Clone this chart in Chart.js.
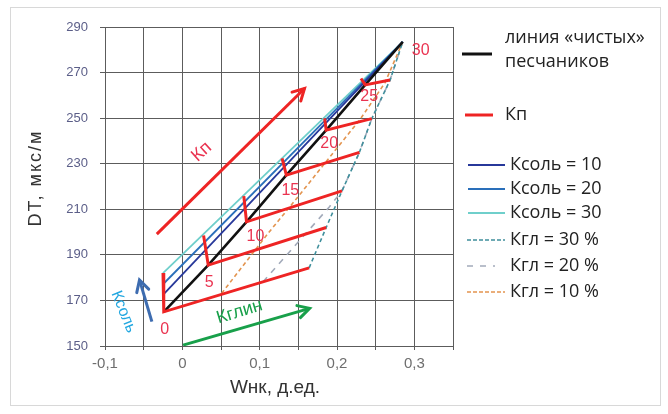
<!DOCTYPE html>
<html>
<head>
<meta charset="utf-8">
<script src="https://cdn.jsdelivr.net/npm/chart.js@4.4.0/dist/chart.umd.min.js"></script>
<style>
  html, body { margin: 0; padding: 0; background: #ffffff; }
  #wrap { position: relative; width: 668px; height: 414px; }
  canvas { display: block; }
</style>
</head>
<body>
<div id="wrap"><canvas id="c" width="668" height="414"></canvas></div>
<script>
// Porosity (Кп, %) values marked along the clean-sandstone line
const porosity = ['0', '5', '10', '15', '20', '25', '30'];

// Clean sandstone line: Wнк vs DT
const cleanW  = [-0.024, 0.0335, 0.083, 0.1345, 0.186, 0.2365, 0.285];
const cleanDT = [165, 185.5, 204.5, 225, 244.7, 264.6, 283.5];

// Top of each porosity tick (Ксоль = 30)
const saltTopW  = [-0.025, 0.0275, 0.0795, 0.129, 0.184, 0.231];
const saltTopDT = [182, 198.5, 215.8, 232.3, 249.9, 267.4];

// End of each porosity line towards clay (Кгл = 30 %)
const clayEndW  = [0.164, 0.186, 0.2065, 0.229, 0.245, 0.2686];
const clayEndDT = [184.3, 202, 218.1, 235, 249.8, 266.7];

// Salinity lines
const salt10W = [-0.025, 0.285], salt10DT = [172.4, 283.5];
const salt20W = [-0.025, 0.285], salt20DT = [177.1, 283.5];
const salt30W = [-0.025, 0.285], salt30DT = [182, 283.5];

// Clay content lines
const clay30W  = [0.164, 0.186, 0.2065, 0.229, 0.245, 0.2686, 0.285];
const clay30DT = [184.3, 202, 218.1, 235, 249.8, 266.7, 283.5];
const clay20W  = [0.1044, 0.19, 0.2065, 0.229, 0.245, 0.2686, 0.285];
const clay20DT = [178.2, 211, 218.1, 235, 249.8, 266.7, 283.5];
const clay10W  = [0.0508, 0.111, 0.152, 0.192, 0.230, 0.262, 0.285];
const clay10DT = [173.1, 199.5, 216.5, 233.5, 249.5, 265.5, 283.5];

// Trend arrows
const arrowKpW   = [-0.033, 0.158],   arrowKpDT   = [199.1, 263];
const arrowClayW = [0.001, 0.1646],   arrowClayDT = [150.4, 166.5];
const arrowSaltW = [-0.0394, -0.0554], arrowSaltDT = [160.7, 179];

// Axis ticks
const xGrid = [-0.1, -0.05, 0, 0.05, 0.1, 0.15, 0.2, 0.25, 0.3, 0.35];
const xTickLabels = ['-0,1', '', '0', '', '0,1', '', '0,2', '', '0,3', ''];
const yTicks = [150, 170, 190, 210, 230, 250, 270, 290];

const RED = '#ee2424';
const LABEL_RED = '#ea3350';
const SANS = '"Liberation Sans", Arial, sans-serif';

const pts = (xs, ys) => xs.map((x, i) => ({ x, y: ys[i] }));

const datasets = [];
// porosity polylines: salinity tick, then the line towards clay
for (let i = 0; i < saltTopW.length; i++) {
  datasets.push({
    label: 'Кп' + porosity[i],
    data: [
      { x: saltTopW[i], y: saltTopDT[i] },
      { x: cleanW[i], y: cleanDT[i] },
      { x: clayEndW[i], y: clayEndDT[i] }
    ],
    borderColor: RED, borderWidth: 3, showLine: true, pointRadius: 0,
    borderJoinStyle: 'miter'
  });
}
datasets.push({ label: 'arrowKp', data: pts(arrowKpW, arrowKpDT), borderColor: RED, borderWidth: 3, showLine: true, pointRadius: 0, arrow: true });
datasets.push({ label: 'arrowClay', data: pts(arrowClayW, arrowClayDT), borderColor: '#18a04a', borderWidth: 3, showLine: true, pointRadius: 0, arrow: true });
datasets.push({ label: 'arrowSalt', data: pts(arrowSaltW, arrowSaltDT), borderColor: '#3d6cb0', borderWidth: 3, showLine: true, pointRadius: 0, arrow: true });
datasets.push({ label: 'clean', data: pts(cleanW, cleanDT), borderColor: '#111111', borderWidth: 2.6, showLine: true, pointRadius: 0 });
datasets.push({ label: 'salt10', data: pts(salt10W, salt10DT), borderColor: '#27389a', borderWidth: 1.8, showLine: true, pointRadius: 0 });
datasets.push({ label: 'salt20', data: pts(salt20W, salt20DT), borderColor: '#2a6fba', borderWidth: 1.8, showLine: true, pointRadius: 0 });
datasets.push({ label: 'salt30', data: pts(salt30W, salt30DT), borderColor: '#6fcfcb', borderWidth: 1.8, showLine: true, pointRadius: 0 });
datasets.push({ label: 'clay30', data: pts(clay30W, clay30DT), borderColor: '#3f8f9c', borderWidth: 1.6, borderDash: [4, 3], showLine: true, pointRadius: 0 });
datasets.push({ label: 'clay10', data: pts(clay10W, clay10DT), borderColor: '#e3944f', borderWidth: 1.6, borderDash: [4, 3], showLine: true, pointRadius: 0 });
datasets.push({ label: 'clay20', data: pts(clay20W, clay20DT), borderColor: '#a3abbb', borderWidth: 1.6, borderDash: [6, 6], showLine: true, pointRadius: 0 });

const legendItems = [
  { y: 54,  color: '#111111', w: 3,   dash: [],     x0: 462, x1: 492, text: null },
  { y: 115, color: RED,       w: 3,   dash: [],     x0: 465, x1: 493, text: 'Кп', tx: 505 },
  { y: 165, color: '#27389a', w: 2,   dash: [],     x0: 468, x1: 505, text: 'Ксоль = 10', tx: 510 },
  { y: 189, color: '#2a6fba', w: 2,   dash: [],     x0: 468, x1: 505, text: 'Ксоль = 20', tx: 510 },
  { y: 213, color: '#6fcfcb', w: 2,   dash: [],     x0: 468, x1: 505, text: 'Ксоль = 30', tx: 510 },
  { y: 240, color: '#3f8f9c', w: 1.6, dash: [4, 2], x0: 467, x1: 505, text: 'Кгл = 30 %', tx: 510 },
  { y: 266, color: '#a3abbb', w: 1.6, dash: [6, 7], x0: 467, x1: 495, text: 'Кгл = 20 %', tx: 510 },
  { y: 292, color: '#e3944f', w: 1.6, dash: [4, 2], x0: 467, x1: 505, text: 'Кгл = 10 %', tx: 510 }
];

const decor = {
  id: 'decor',
  afterDatasetsDraw(chart) {
    const ctx = chart.ctx;
    const xs = chart.scales.x, ys = chart.scales.y;
    ctx.save();
    // arrowheads at the last point of each arrow line
    chart.data.datasets.forEach((ds) => {
      if (!ds.arrow) return;
      const n = ds.data.length;
      const ax = xs.getPixelForValue(ds.data[n - 2].x), ay = ys.getPixelForValue(ds.data[n - 2].y);
      const bx = xs.getPixelForValue(ds.data[n - 1].x), by = ys.getPixelForValue(ds.data[n - 1].y);
      const ang = Math.atan2(by - ay, bx - ax);
      const L = 13, spread = 0.5;
      ctx.strokeStyle = ds.borderColor; ctx.lineWidth = ds.borderWidth; ctx.lineCap = 'round'; ctx.lineJoin = 'miter';
      ctx.beginPath();
      ctx.moveTo(bx - L * Math.cos(ang - spread), by - L * Math.sin(ang - spread));
      ctx.lineTo(bx, by);
      ctx.lineTo(bx - L * Math.cos(ang + spread), by - L * Math.sin(ang + spread));
      ctx.stroke();
    });
    // porosity labels along the clean line
    const offs = [[1, 18], [1, 17], [9, 15], [4, 15], [3, 13], [4, 12], [18, 9]];
    ctx.fillStyle = LABEL_RED;
    ctx.font = '16px ' + SANS;
    ctx.textAlign = 'center'; ctx.textBaseline = 'middle';
    porosity.forEach((p, i) => {
      const px = xs.getPixelForValue(cleanW[i]) + offs[i][0];
      const py = ys.getPixelForValue(cleanDT[i]) + offs[i][1];
      ctx.fillText(p, px, py);
    });
    // rotated annotations next to the arrows
    const rotText = (txt, wx, wy, deg, color, size) => {
      ctx.save();
      ctx.translate(xs.getPixelForValue(wx), ys.getPixelForValue(wy));
      ctx.rotate(deg * Math.PI / 180);
      ctx.fillStyle = color;
      ctx.font = size + 'px ' + SANS;
      ctx.textAlign = 'center'; ctx.textBaseline = 'middle';
      ctx.fillText(txt, 0, 0);
      ctx.restore();
    };
    rotText('Кп', 0.025, 235.2, -42, LABEL_RED, 18);
    rotText('Ксоль', -0.076, 165, 68, '#22a7e0', 16);
    rotText('Кглин', 0.074, 165, -17, '#18a04a', 18);
    ctx.restore();
  },
  afterDraw(chart) {
    const ctx = chart.ctx;
    ctx.save();
    // axis titles
    ctx.fillStyle = '#333333';
    ctx.textAlign = 'center'; ctx.textBaseline = 'middle';
    ctx.save();
    ctx.translate(36, 178);
    ctx.rotate(-Math.PI / 2);
    ctx.font = '18px ' + SANS;
    ctx.letterSpacing = '2px';
    ctx.fillText('DT, мкс/м', 0, 0);
    ctx.restore();
    ctx.font = '19px ' + SANS;
    ctx.fillText('Wнк, д.ед.', 275, 388);
    // legend
    legendItems.forEach((it) => {
      ctx.strokeStyle = it.color; ctx.lineWidth = it.w; ctx.setLineDash(it.dash); ctx.lineCap = 'butt';
      ctx.beginPath(); ctx.moveTo(it.x0, it.y); ctx.lineTo(it.x1, it.y); ctx.stroke();
    });
    ctx.setLineDash([]);
    ctx.fillStyle = '#222222';
    ctx.font = '18px "Open Sans", "Noto Sans", sans-serif';
    ctx.textAlign = 'left'; ctx.textBaseline = 'middle';
    ctx.fillText('линия «чистых»', 505, 38);
    ctx.fillText('песчаников', 505, 62);
    legendItems.forEach((it) => { if (it.text) ctx.fillText(it.text, it.tx, it.y); });
    // outer frame
    ctx.strokeStyle = '#d8d8d8'; ctx.lineWidth = 1;
    ctx.strokeRect(10.5, 7.5, 650, 398);
    ctx.restore();
  }
};

new Chart(document.getElementById('c'), {
  type: 'scatter',
  data: { datasets },
  options: {
    responsive: false,
    animation: false,
    devicePixelRatio: 1,
    layout: { padding: { left: 0, top: 27, right: 215, bottom: 0 } },
    plugins: { legend: { display: false }, tooltip: { enabled: false } },
    scales: {
      x: {
        type: 'linear', min: -0.1, max: 0.35,
        afterBuildTicks: (s) => { s.ticks = xGrid.map((v) => ({ value: v })); },
        afterFit: (s) => { s.height = 68; },
        ticks: {
          autoSkip: false, maxRotation: 0, padding: 5,
          color: '#6e6e6e', font: { family: SANS, size: 15 },
          callback: (v, i) => xTickLabels[i]
        },
        grid: { color: '#5c5c5c', lineWidth: 1, tickLength: 4, drawTicks: true },
        border: { color: '#5c5c5c', width: 1 }
      },
      y: {
        type: 'linear', min: 150, max: 290,
        afterBuildTicks: (s) => { s.ticks = yTicks.map((v) => ({ value: v })); },
        afterFit: (s) => { s.width = 105; },
        ticks: {
          autoSkip: false, padding: 12,
          color: '#5b5e88', font: { family: SANS, size: 13 }
        },
        grid: { color: '#5c5c5c', lineWidth: 1, tickLength: 5 },
        border: { color: '#5c5c5c', width: 1 }
      }
    }
  },
  plugins: [decor]
});
</script>
</body>
</html>
